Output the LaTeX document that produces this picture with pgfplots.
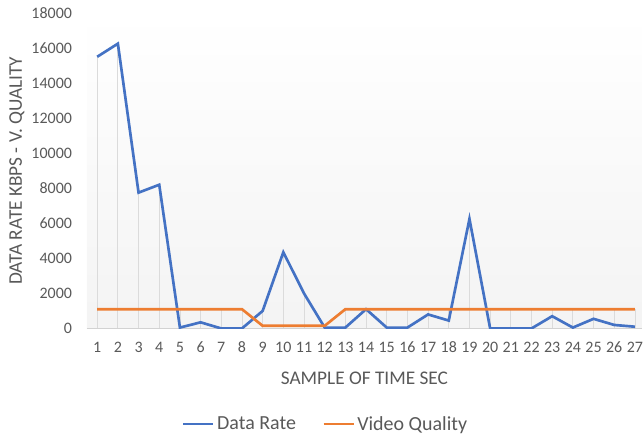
\documentclass[border=0pt]{standalone}
\usepackage{pgfplots}
\pgfplotsset{compat=1.18}
\usepackage{fontspec}
\setmainfont{Carlito}
\definecolor{xlblue}{HTML}{4472C4}
\definecolor{xlorange}{HTML}{ED7D31}
\definecolor{txtgray}{HTML}{595959}
\begin{document}
\begin{tikzpicture}
\begin{axis}[
  name=ax,
  scale only axis,
  width=417pt, height=237pt,
  xmin=0.5, xmax=27.34,
  ymin=0, ymax=18000,
  xtick={1,...,27},
  ytick={0,2000,...,18000},
  scaled y ticks=false,
  /pgf/number format/assume math mode=true,
  yticklabel style={/pgf/number format/fixed,/pgf/number format/1000 sep={},
    anchor=east, inner sep=0pt, xshift=-11pt},
  xticklabel style={anchor=center, inner sep=0pt, yshift=-14.25pt},
  tick label style={font=\fontsize{12}{14}\selectfont, text=txtgray},
  major tick length=0pt,
  axis x line*=bottom,
  axis y line*=left,
  x axis line style={draw=gray!35, line width=0.6pt},
  y axis line style={draw=none},
  xlabel={SAMPLE OF TIME SEC},
  ylabel={DATA RATE KBPS - V. QUALITY},
  label style={font=\fontsize{14.5}{16}\selectfont, text=txtgray},
  xlabel style={at={([yshift=-37.5pt]axis description cs:0.5,0)}, anchor=center},
  ylabel style={at={([xshift=-52.5pt]axis description cs:0,0.5)}, anchor=center, rotate=0},
  axis background/.style={shade, top color=white, bottom color=gray!9},
  legend style={at={([yshift=-72pt]axis description cs:0.431,0)}, anchor=center, draw=none, fill=none,
    legend columns=2, font=\fontsize{15}{17}\selectfont, text=txtgray, inner sep=0pt,
    /tikz/every even column/.append style={column sep=18pt}},
  legend image code/.code={\draw[#1, line width=1.6pt] (0pt,0pt) -- (22.5pt,0pt);},
]
% drop lines at max of both series
\addplot[ycomb, draw=gray!28, line width=0.6pt, forget plot] coordinates {
(1,15500)(2,16250)(3,7750)(4,8200)(5,1100)(6,1100)(7,1100)(8,1100)(9,1000)
(10,4350)(11,2000)(12,150)(13,1100)(14,1100)(15,1100)(16,1100)(17,1100)(18,1100)
(19,6250)(20,1100)(21,1100)(22,1100)(23,1100)(24,1100)(25,1100)(26,1100)(27,1100)};
\addplot[xlblue, line width=2pt] coordinates {
(1,15500)(2,16250)(3,7750)(4,8200)(5,50)(6,350)(7,0)(8,0)(9,1000)
(10,4350)(11,2000)(12,50)(13,50)(14,1100)(15,50)(16,50)(17,800)(18,450)
(19,6250)(20,0)(21,0)(22,0)(23,700)(24,50)(25,550)(26,200)(27,100)};
\addlegendentry{Data Rate}
\addplot[xlorange, line width=2pt] coordinates {
(1,1100)(2,1100)(3,1100)(4,1100)(5,1100)(6,1100)(7,1100)(8,1100)(9,150)
(10,150)(11,150)(12,150)(13,1100)(14,1100)(15,1100)(16,1100)(17,1100)(18,1100)
(19,1100)(20,1100)(21,1100)(22,1100)(23,1100)(24,1100)(25,1100)(26,1100)(27,1100)};
\addlegendentry{Video Quality}
\end{axis}
\path ([xshift=-65.25pt,yshift=9.75pt]ax.north west) -- ([yshift=-82.5pt]ax.south east);
\end{tikzpicture}
\end{document}
